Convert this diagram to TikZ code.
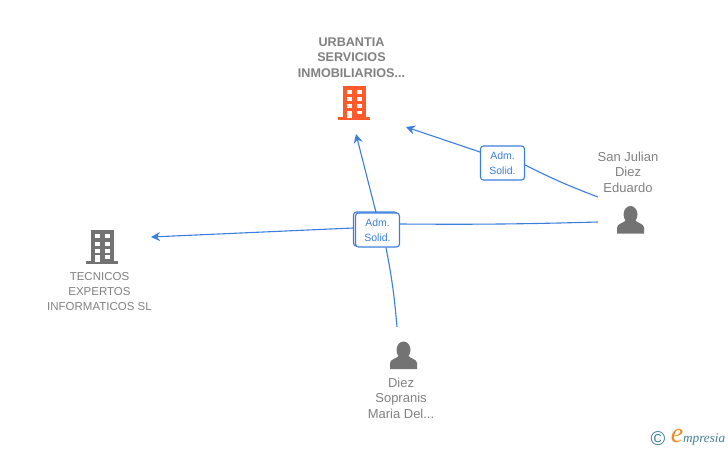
\documentclass[tikz,border=0pt]{standalone}
\usepackage{fontspec}
\setmainfont{Liberation Sans}
\newfontfamily\logofont{Liberation Serif}
\usetikzlibrary{arrows.meta}
\definecolor{link-blue}{HTML}{3B7EDC}
\definecolor{label-grey}{HTML}{808080}
\definecolor{icon-grey}{HTML}{737373}
\definecolor{icon-orange}{HTML}{FF5A2B}
\definecolor{logo-teal}{HTML}{3F7F96}
\definecolor{logo-orange}{HTML}{F08A24}
\tikzset{
    party-label/.style = {text=label-grey, font=\fontsize{13}{15.4}\selectfont, align=center, inner sep=0pt},
    firm-label/.style = {party-label, font=\fontsize{12.6}{15.4}\selectfont\bfseries},
    wide-label/.style = {party-label, font=\fontsize{11.5}{15.4}\selectfont},
    role-box/.style = {draw=link-blue, fill=white, line width=1.1pt, rounded corners=3pt, minimum width=44pt, minimum height=34pt, inner sep=0pt, align=center, text=link-blue, font=\fontsize{10.5}{15}\selectfont},
    link/.style = {draw=link-blue, line width=1.1pt},
    link-arrow/.style = {link, -{Stealth[length=9pt,width=9pt,inset=3pt]}},
    building/.pic = {
        \fill (-11.5,-17) rectangle (11.5,14);
        \fill (-16,14) rectangle (16,17);
        \foreach \wy in {-13,-5.5,1.5} {
            \fill[white] (-7.5,\wy) rectangle (-2.5,\wy+4);
            \fill[white] (2.5,\wy) rectangle (7.5,\wy+4);
        }
        \fill[white] (-7.5,8) rectangle (-2.5,15);
        \fill[white] (2.5,8) rectangle (7.5,11.5);
    },
    person/.pic = {
        \fill (0,-5) ellipse (7 and 8.5);
        \fill (-13.5,14) -- (-13.5,8) .. controls (-13.5,4) and (-6,3.5) .. (-4,0) -- (4,0)
            .. controls (6,3.5) and (13.5,4) .. (13.5,8) -- (13.5,14) -- cycle;
    },
}
\begin{document}
\begin{tikzpicture}[x=1pt,y=-1pt]
\useasboundingbox (0,0) rectangle (728,450);

% parties
\pic[color=icon-orange, fill=icon-orange] at (354,102.5) {building};
\pic[color=icon-grey, fill=icon-grey] at (102,247) {building};
\pic[color=icon-grey, fill=icon-grey] at (630.5,219.5) {person};
\pic[color=icon-grey, fill=icon-grey] at (403.5,355) {person};

\node[firm-label] (urbantia) at (351.5,57.5) {URBANTIA\\SERVICIOS\\INMOBILIARIOS...};
\node[wide-label] (tecnicos) at (99.5,291.5) {TECNICOS\\EXPERTOS\\INFORMATICOS SL};
\node[party-label] (eduardo) at (628,172) {San Julian\\Diez\\Eduardo};
\node[party-label] (sopranis) at (401,398) {Diez\\Sopranis\\Maria Del...};

% free ends of the links
\coordinate (urbantia-right) at (406,127);
\coordinate (urbantia-below) at (356,134);
\coordinate (tecnicos-right) at (151,237);
\coordinate (eduardo-upper) at (598,197);
\coordinate (eduardo-lower) at (598,222);
\coordinate (sopranis-top) at (397,327);

% boxes
\node[role-box] (solid-back) at (375.5,229) {};
\node[role-box] (solid-main) at (377.5,230) {Adm.\\Solid.};
\node[role-box] (solid-side) at (502.5,163) {Adm.\\Solid.};

\draw[link] (eduardo-upper) to[bend left=3] ([yshift=-2pt]solid-side.east);
\draw[link-arrow] ([yshift=11pt]solid-side.west) -- (urbantia-right);
\draw[link] (eduardo-lower) to[bend left=1] ([yshift=6pt]solid-main.east);
\draw[link-arrow] ([yshift=1pt]solid-back.west) -- (tecnicos-right);
\draw[link] (sopranis-top) to[bend right=3] ([xshift=8.5pt]solid-main.south);
\draw[link-arrow] ([xshift=-1.5pt]solid-main.north) -- (urbantia-below);

% logo
\node[text=logo-teal, font=\fontsize{20}{20}\selectfont, inner sep=0pt] (copy-mark) at (658,438.5) {\textcopyright};
\node[text=logo-orange, font=\logofont\itshape\fontsize{28}{28}\selectfont, inner sep=0pt] (logo-e) at (677,436) {e};
\node[text=logo-teal, font=\logofont\itshape\fontsize{13.2}{13.2}\selectfont, inner sep=0pt, anchor=west] (logo-name) at (683,439.5) {mpresia};
\end{tikzpicture}
\end{document}
